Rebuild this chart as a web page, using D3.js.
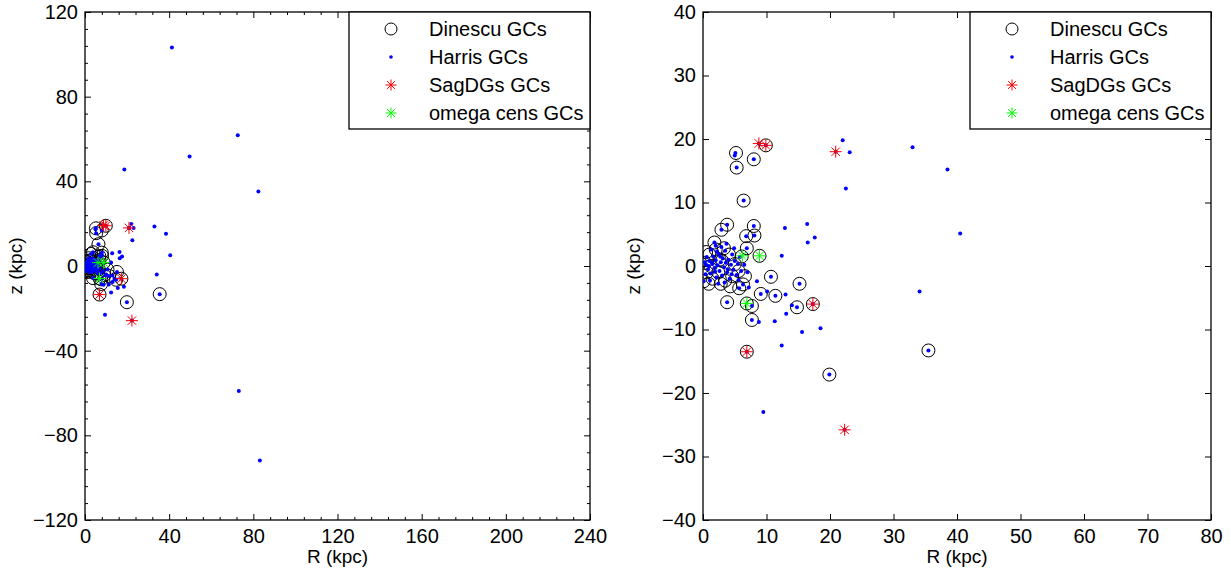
<!DOCTYPE html>
<html>
<head>
<meta charset="utf-8">
<script src="https://cdn.jsdelivr.net/npm/d3@7"></script>
<style>
  body { margin: 0; background: #fff; }
  svg { font-family: "Liberation Sans", Arial, sans-serif; }
  .tick text { font-size: 20px; fill: #000; }
</style>
</head>
<body>
<div id="chart"></div>
<script>
// Globular cluster positions, [R (kpc), z (kpc)]
const harrisGCs = [
  [41.3, 103.2], [72.6, 61.8], [49.7, 51.7], [82.4, 35.2], [18.7, 45.6], [73.1, -59.0], [83.1, -91.9],
  [33.0, 18.7], [38.5, 15.2], [40.5, 5.1], [34.1, -4.0], [35.5, -13.3],
  [22.0, 19.8], [23.1, 17.9], [22.5, 12.2],
  [5.1, 17.8], [5.0, 17.4], [5.3, 15.5], [8.0, 16.8], [9.9, 19.0], [8.8, 19.3], [20.9, 18.0],
  [6.4, 10.3], [3.8, 6.5], [2.9, 5.7], [8.0, 6.3], [6.8, 4.7], [8.1, 4.8], [6.9, 2.8],
  [12.9, 6.0], [16.4, 6.6], [17.6, 4.5], [16.5, 3.7], [12.4, 1.6],
  [10.7, -1.7], [15.2, -2.8], [11.4, -4.7], [9.1, -4.4], [10.1, -4.0], [13.0, -4.5],
  [14.8, -6.5], [14.0, -6.2], [13.1, -7.5], [11.3, -8.7], [18.5, -9.8], [8.8, -8.8],
  [7.7, -8.5], [15.6, -10.4], [12.4, -12.5], [19.9, -17.1], [9.5, -23.0],
  [3.8, -5.7], [7.7, -6.3], [8.5, -2.4], [7.2, -3.4], [5.7, -3.5], [6.3, -2.9], [0.1, -2.4],
  [17.3, -6.0], [6.9, -13.5], [22.3, -25.8],
  [0.5, 0.2], [0.8, -0.5], [1.0, 0.8], [1.2, -1.2], [1.5, 0.3], [1.6, 1.5], [1.8, -0.3],
  [2.0, 0.9], [2.1, -1.8], [2.3, 0.1], [2.5, 1.9], [2.6, -0.8], [2.8, 0.6], [3.0, -1.5],
  [3.1, 1.2], [3.3, -0.2], [3.5, 2.4], [3.6, 0.5], [3.8, -1.0], [4.0, 1.0], [4.2, -2.0],
  [4.4, 0.2], [4.6, 1.8], [4.8, -0.6], [5.0, 0.8], [5.3, -1.4], [5.5, 0.3], [5.8, 1.4],
  [6.0, -0.8], [1.3, 2.6], [2.0, 3.2], [2.9, 3.0], [0.6, 1.4], [0.4, -1.3], [1.1, -2.3],
  [3.4, -2.6], [2.4, -2.8], [4.9, 2.8], [5.6, -2.2], [0.9, 0.0], [1.9, -0.9], [2.7, 1.5],
  [3.9, -0.5], [4.5, -1.3], [6.5, 0.2], [7.0, -1.0], [1.4, 0.5], [0.3, 0.6], [2.2, 2.3],
  [3.7, 3.5], [1.8, 3.7]
];

const dinescuGCs = [
  [5.2, 17.8], [5.3, 15.5], [8.0, 16.8], [9.9, 19.0], [6.4, 10.3], [3.8, 6.5], [2.9, 5.7],
  [8.0, 6.3], [6.8, 4.7], [8.1, 4.8], [6.9, 2.8], [8.9, 1.6], [6.1, 1.5], [10.7, -1.7],
  [15.2, -2.8], [11.4, -4.7], [9.1, -4.4], [14.8, -6.5], [17.3, -6.0], [7.7, -6.3],
  [6.9, -5.9], [3.8, -5.7], [5.7, -3.5], [6.3, -2.9], [7.7, -8.5], [6.9, -13.5],
  [19.9, -17.1], [35.5, -13.3], [0.1, -2.4], [1.8, 3.7],
  [0.3, 0.5], [0.6, -1.0], [1.0, 1.8], [1.5, -2.0], [2.0, 2.6], [2.4, -1.0], [3.0, 0.8],
  [3.5, -2.3], [4.1, 1.8], [4.6, -1.6], [5.0, 0.3], [1.2, 0.0], [2.8, -2.8], [0.5, 2.2],
  [3.3, 2.8], [5.6, -0.8], [4.3, -3.2], [0.9, -2.8], [2.6, 1.0], [6.6, -1.6]
];

const sagGCs = [[8.8, 19.3], [9.9, 19.0], [20.9, 18.0], [17.3, -6.0], [6.9, -13.5], [22.3, -25.8]];
const omegaGCs = [[6.2, 1.6], [8.9, 1.6], [6.9, -5.9]];

const legendLabels = ["Dinescu GCs", "Harris GCs", "SagDGs GCs", "omega cens GCs"];

const leftXTicks = [0, 40, 80, 120, 160, 200, 240];
const leftYTicks = [-120, -80, -40, 0, 40, 80, 120];
const rightXTicks = [0, 10, 20, 30, 40, 50, 60, 70, 80];
const rightYTicks = [-40, -30, -20, -10, 0, 10, 20, 30, 40];

const panels = [
  { id: "L", left: 85, right: 590, top: 12, bottom: 520, xDom: [0, 240], yDom: [-120, 120],
    xTicks: leftXTicks, yTicks: leftYTicks, minorStep: 8 },
  { id: "R", left: 703, right: 1211, top: 12, bottom: 520, xDom: [0, 80], yDom: [-40, 40],
    xTicks: rightXTicks, yTicks: rightYTicks, minorStep: null }
];

const svg = d3.select("#chart").append("svg")
  .attr("width", 1231).attr("height", 572);

function starPath(s) {
  const d = s * 0.7071;
  return `M${-s},0L${s},0M0,${-s}L0,${s}M${-d},${-d}L${d},${d}M${-d},${d}L${d},${-d}`;
}

panels.forEach(p => {
  const x = d3.scaleLinear().domain(p.xDom).range([p.left, p.right]);
  const y = d3.scaleLinear().domain(p.yDom).range([p.bottom, p.top]);
  const w = p.right - p.left, h = p.bottom - p.top;

  svg.append("clipPath").attr("id", "clip" + p.id)
    .append("rect").attr("x", p.left).attr("y", p.top).attr("width", w).attr("height", h);

  // minor ticks (left panel only)
  if (p.minorStep) {
    const mx = d3.range(p.xDom[0], p.xDom[1] + 0.1, p.minorStep).filter(v => v % 40 !== 0);
    const my = d3.range(p.yDom[0], p.yDom[1] + 0.1, p.minorStep).filter(v => v % 40 !== 0);
    const minor = [
      [d3.axisBottom(x).tickValues(mx), `translate(0,${p.bottom})`],
      [d3.axisTop(x).tickValues(mx), `translate(0,${p.top})`],
      [d3.axisLeft(y).tickValues(my), `translate(${p.left},0)`],
      [d3.axisRight(y).tickValues(my), `translate(${p.right},0)`]
    ];
    minor.forEach(([ax, tr]) => {
      const g = svg.append("g").attr("transform", tr)
        .call(ax.tickSizeInner(-3).tickSizeOuter(0).tickFormat(""));
      g.select(".domain").remove();
      g.selectAll("line").attr("stroke", "#000").attr("stroke-width", 1);
    });
  }

  // major ticks with labels on bottom/left, mirrored on top/right
  const gx = svg.append("g").attr("transform", `translate(0,${p.bottom})`)
    .call(d3.axisBottom(x).tickValues(p.xTicks).tickSizeInner(-6).tickSizeOuter(0).tickPadding(9));
  const gy = svg.append("g").attr("transform", `translate(${p.left},0)`)
    .call(d3.axisLeft(y).tickValues(p.yTicks).tickSizeInner(-6).tickSizeOuter(0).tickPadding(7));
  const gt = svg.append("g").attr("transform", `translate(0,${p.top})`)
    .call(d3.axisTop(x).tickValues(p.xTicks).tickSizeInner(-6).tickSizeOuter(0).tickFormat(""));
  const gr = svg.append("g").attr("transform", `translate(${p.right},0)`)
    .call(d3.axisRight(y).tickValues(p.yTicks).tickSizeInner(-6).tickSizeOuter(0).tickFormat(""));
  [gx, gy, gt, gr].forEach(g => {
    g.select(".domain").remove();
    g.selectAll("line").attr("stroke", "#000").attr("stroke-width", 1);
    g.selectAll("text").attr("font-family", null).attr("font-size", null);
  });

  // frame
  svg.append("rect").attr("x", p.left).attr("y", p.top).attr("width", w).attr("height", h)
    .attr("fill", "none").attr("stroke", "#000").attr("stroke-width", 1.3);

  // axis labels
  svg.append("text").attr("x", (p.left + p.right) / 2).attr("y", 563)
    .attr("text-anchor", "middle").attr("font-size", 19).text("R (kpc)");
  svg.append("text")
    .attr("transform", `translate(${p.left - 63},${(p.top + p.bottom) / 2}) rotate(-90)`)
    .attr("text-anchor", "middle").attr("font-size", 19).text("z (kpc)");

  const plot = svg.append("g").attr("clip-path", `url(#clip${p.id})`);

  plot.selectAll(".din").data(dinescuGCs).join("circle")
    .attr("cx", d => x(d[0])).attr("cy", d => y(d[1])).attr("r", 6.5)
    .attr("fill", "none").attr("stroke", "#000").attr("stroke-width", 1);

  plot.selectAll(".har").data(harrisGCs).join("circle")
    .attr("cx", d => x(d[0])).attr("cy", d => y(d[1])).attr("r", 2)
    .attr("fill", "#0000ff");

  plot.selectAll(".sag").data(sagGCs).join("path")
    .attr("transform", d => `translate(${x(d[0])},${y(d[1])})`)
    .attr("d", starPath(6)).attr("stroke", "#ff0000").attr("stroke-width", 1).attr("fill", "none");

  plot.selectAll(".ome").data(omegaGCs).join("path")
    .attr("transform", d => `translate(${x(d[0])},${y(d[1])})`)
    .attr("d", starPath(6)).attr("stroke", "#00ff00").attr("stroke-width", 1).attr("fill", "none");

  // legend
  const lw = 241, lh = 117;
  const lg = svg.append("g").attr("transform", `translate(${p.right - lw},${p.top})`);
  lg.append("rect").attr("width", lw).attr("height", lh)
    .attr("fill", "#fff").attr("stroke", "#000").attr("stroke-width", 1.3);
  legendLabels.forEach((lab, i) => {
    const cy = 17 + i * 28;
    const mx = 42;
    if (i === 0) {
      lg.append("circle").attr("cx", mx).attr("cy", cy).attr("r", 6)
        .attr("fill", "none").attr("stroke", "#000");
    } else if (i === 1) {
      lg.append("circle").attr("cx", mx).attr("cy", cy).attr("r", 1.8).attr("fill", "#0000ff");
    } else {
      lg.append("path").attr("transform", `translate(${mx},${cy})`).attr("d", starPath(5.5))
        .attr("stroke", i === 2 ? "#ff0000" : "#00ff00").attr("fill", "none");
    }
    lg.append("text").attr("x", 80).attr("y", cy + 7).attr("font-size", 20).text(lab);
  });
});
</script>
</body>
</html>
